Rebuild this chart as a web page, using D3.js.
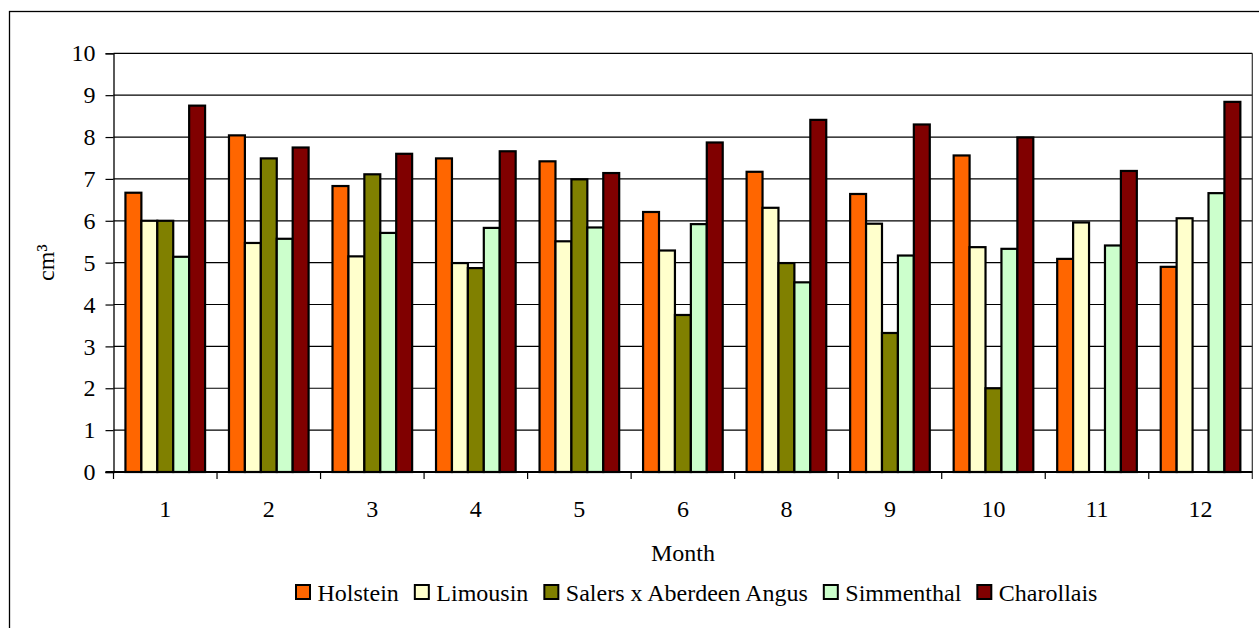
<!DOCTYPE html>
<html>
<head>
<meta charset="utf-8">
<script src="https://cdn.jsdelivr.net/npm/d3@7"></script>
<style>
  html, body { margin: 0; padding: 0; background: #fff; }
  svg { display: block; font-family: "Liberation Serif", "Times New Roman", serif; }
  svg text { font-family: "Liberation Serif", "Times New Roman", serif !important; fill: #000; }
</style>
</head>
<body>
<svg id="chart" width="1259" height="628"></svg>
<script>
// Months sampled (no month 7)
const months = ["1", "2", "3", "4", "5", "6", "8", "9", "10", "11", "12"];

// Breeds
const breeds = ["Holstein", "Limousin", "Salers x Aberdeen Angus", "Simmenthal", "Charollais"];
const breedColors = ["#FF6600", "#FFFFCC", "#808000", "#CCFFCC", "#800000"];

// Volume (cm³) per month, one array per breed
const holstein   = [6.67, 8.04, 6.83, 7.49, 7.42, 6.21, 7.17, 6.64, 7.56, 5.09, 4.90];
const limousin   = [6.00, 5.47, 5.15, 4.99, 5.51, 5.29, 6.31, 5.93, 5.37, 5.96, 6.06];
const salers     = [6.00, 7.49, 7.11, 4.87, 6.99, 3.75, 4.99, 3.32, 2.00, null, null];
const simmenthal = [5.14, 5.57, 5.71, 5.83, 5.84, 5.92, 4.53, 5.17, 5.33, 5.41, 6.66];
const charollais = [8.75, 7.75, 7.60, 7.66, 7.14, 7.87, 8.41, 8.30, 7.99, 7.19, 8.84];

const yTicks = [0, 1, 2, 3, 4, 5, 6, 7, 8, 9, 10];

const seriesValues = [holstein, limousin, salers, simmenthal, charollais];

const svg = d3.select("#chart");
const serif = "Liberation Serif, Times New Roman, serif";
const fontSize = 24;

// outer chart frame
svg.append("rect")
  .attr("x", 9.5).attr("y", 11.5)
  .attr("width", 1300).attr("height", 700)
  .attr("fill", "none").attr("stroke", "#000").attr("stroke-width", 1.3);

const plot = { left: 113.5, right: 1252.3, top: 53.3, bottom: 472 };

const x0 = d3.scaleBand().domain(months).range([plot.left, plot.right]).padding(0);
const x1 = d3.scaleBand().domain(breeds).range([0, x0.bandwidth()])
  .paddingInner(0).paddingOuter(0.75);
const y = d3.scaleLinear().domain([0, 10]).range([plot.bottom, plot.top]);
const color = d3.scaleOrdinal().domain(breeds).range(breedColors);

// horizontal gridlines
svg.append("g")
  .selectAll("line")
  .data(yTicks.filter(t => t > 0))
  .join("line")
  .attr("x1", plot.left).attr("x2", plot.right)
  .attr("y1", d => y(d)).attr("y2", d => y(d))
  .attr("stroke", "#000").attr("stroke-width", 1.2);

// right edge of plot area
svg.append("line")
  .attr("x1", plot.right).attr("x2", plot.right)
  .attr("y1", plot.top).attr("y2", plot.bottom + 7)
  .attr("stroke", "#333").attr("stroke-width", 1.2);

// bars
const groups = svg.append("g")
  .selectAll("g")
  .data(months)
  .join("g")
  .attr("transform", d => `translate(${x0(d)},0)`);

groups.selectAll("rect")
  .data((m, i) => breeds.map((b, j) => ({ breed: b, value: seriesValues[j][i] }))
    .filter(d => d.value != null))
  .join("rect")
  .attr("x", d => x1(d.breed))
  .attr("width", x1.bandwidth())
  .attr("y", d => y(d.value))
  .attr("height", d => y(0) - y(d.value))
  .attr("fill", d => color(d.breed))
  .attr("stroke", "#000")
  .attr("stroke-width", 2.2);

// y axis
const yAxis = svg.append("g")
  .attr("transform", `translate(${plot.left},0)`)
  .call(d3.axisLeft(y).tickValues(yTicks).tickFormat(d3.format("d")).tickSize(8).tickPadding(10))
  .attr("font-family", serif)
  .attr("font-size", fontSize);
yAxis.select(".domain").attr("stroke", "#000").attr("stroke-width", 1.3);
yAxis.selectAll(".tick line").attr("stroke", "#000").attr("stroke-width", 1.2);
yAxis.selectAll("text").attr("fill", "#000");

// x axis: baseline, ticks between categories, centred labels
const xAxis = svg.append("g")
  .attr("transform", `translate(0,${plot.bottom})`)
  .call(d3.axisBottom(x0).tickSize(0).tickPadding(0))
  .attr("font-family", serif)
  .attr("font-size", fontSize);
xAxis.select(".domain").remove();
xAxis.append("line")
  .attr("x1", plot.left - 8).attr("x2", plot.right)
  .attr("y1", 0).attr("y2", 0)
  .attr("stroke", "#000").attr("stroke-width", 2);
xAxis.selectAll(".sep")
  .data(months)
  .join("line")
  .attr("class", "sep")
  .attr("x1", d => x0(d)).attr("x2", d => x0(d))
  .attr("y1", 0).attr("y2", 7)
  .attr("stroke", "#000").attr("stroke-width", 1.2);
xAxis.selectAll(".tick text")
  .attr("y", 45).attr("dy", null)
  .attr("fill", "#000");

// axis titles
svg.append("text")
  .attr("x", (plot.left + plot.right) / 2)
  .attr("y", 561)
  .attr("text-anchor", "middle")
  .attr("font-family", serif)
  .attr("font-size", fontSize)
  .text("Month");

svg.append("text")
  .attr("transform", `translate(54,${(plot.top + plot.bottom) / 2}) rotate(-90)`)
  .attr("text-anchor", "middle")
  .attr("font-family", serif)
  .attr("font-size", fontSize)
  .text("cm³");

// legend
const legend = svg.append("g").attr("transform", "translate(295,600.5)");
let lx = 0;
breeds.forEach((b, i) => {
  const g = legend.append("g").attr("transform", `translate(${lx},0)`);
  g.append("rect")
    .attr("x", 1).attr("y", -15.5)
    .attr("width", 14).attr("height", 14)
    .attr("fill", color(b)).attr("stroke", "#000").attr("stroke-width", 2);
  const t = g.append("text")
    .attr("x", 22.5).attr("y", 0)
    .attr("font-family", serif)
    .attr("font-size", fontSize)
    .text(b);
  lx += 22.5 + t.node().getComputedTextLength() + 15;
});
</script>
</body>
</html>
